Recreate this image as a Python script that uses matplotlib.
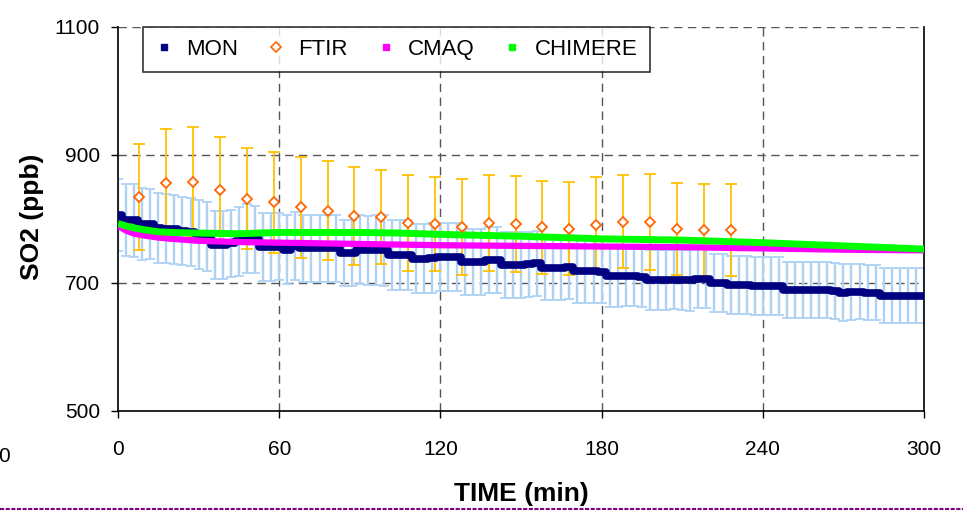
# SO2 time series: measured (MON), FTIR and two models (CMAQ, CHIMERE)

import numpy as np
import matplotlib
matplotlib.use('Agg')
import matplotlib.pyplot as plt
from matplotlib.lines import Line2D

plt.rcParams['font.family'] = ['Liberation Sans', 'DejaVu Sans']

# MON every 3 minutes (0..300)
mon_t = np.arange(0, 301, 3)
mon = [806, 798, 798, 792, 792, 786, 785, 784, 781, 780,
       776, 772, 760, 759, 762, 765, 770, 768, 756, 756,
       757, 752, 758, 754, 754, 754, 754, 754, 747, 747,
       752, 751, 752, 751, 744, 744, 744, 738, 738, 739,
       741, 741, 740, 733, 733, 733, 736, 736, 728, 728,
       728, 729, 731, 723, 723, 723, 725, 718, 718, 718,
       717, 711, 711, 711, 711, 710, 705, 705, 705, 705,
       705, 704, 707, 707, 700, 700, 697, 697, 697, 695,
       695, 695, 695, 689, 689, 689, 689, 689, 689, 688,
       685, 686, 686, 685, 685, 680, 680, 680, 680, 680,
       680]
mon_err = [56, 56, 57, 56, 55, 55, 54, 54, 53, 53,
           54, 54, 53, 53, 52, 54, 54, 53, 53, 53,
           53, 54, 53, 53, 52, 52, 53, 53, 52, 52,
           54, 54, 55, 55, 55, 55, 55, 54, 54, 54,
           53, 53, 53, 52, 52, 52, 52, 52, 52, 51,
           52, 51, 51, 50, 50, 50, 50, 49, 49, 49,
           48, 48, 48, 47, 47, 47, 47, 47, 47, 46,
           47, 47, 46, 46, 46, 45, 45, 45, 45, 45,
           45, 45, 45, 44, 44, 44, 44, 44, 44, 44,
           44, 44, 43, 43, 43, 43, 43, 43, 43, 43,
           43]

# FTIR
ftir_t = [8, 18, 28, 38, 48, 58, 68, 78, 88, 98, 108, 118,
          128, 138, 148, 158, 168, 178, 188, 198, 208, 218, 228]
ftir = [834, 857, 858, 846, 832, 826, 818, 813, 805, 803, 794, 792,
        787, 794, 792, 787, 785, 790, 796, 796, 785, 783, 783]
ftir_err = [83, 84, 85, 82, 79, 79, 79, 77, 77, 74, 75, 73,
            75, 75, 75, 73, 73, 75, 73, 75, 72, 72, 72]

# models
cmaq_t = [0, 3, 6, 10, 15, 20, 30, 45, 60, 90, 120, 150, 180, 210, 240, 270, 300]
cmaq = [789, 782, 777, 774, 771, 769, 766, 764, 763, 761, 759, 758, 757, 756, 754, 752, 751]
chim_t = [0, 3, 6, 10, 15, 20, 30, 45, 60, 75, 90, 105, 120, 150, 180, 210, 240, 270, 300]
chim = [793, 789, 786, 783, 780, 779, 778, 777, 779, 779, 779, 778, 776, 773, 769, 767, 763, 758, 753]

xticks = [0, 60, 120, 180, 240, 300]
yticks = [500, 700, 900, 1100]

W, H = 963, 513
fig = plt.figure(figsize=(W / 100, H / 100), dpi=100)
ax = fig.add_axes([118 / W, 1 - 411 / H, 806 / W, 384 / H])

grid_kw = dict(color='#555555', lw=1.0, ls=(0, (6, 4)), zorder=0.5)
for x in xticks[1:-1]:
    ax.axvline(x, **grid_kw)
for y in [700, 900, 1100]:
    ax.axhline(y, **grid_kw)

ax.errorbar(mon_t, mon, yerr=mon_err, fmt='none', ecolor='#AFD2F4',
            elinewidth=1.7, capsize=3.5, capthick=1.3, zorder=1)
ax.errorbar(ftir_t, ftir, yerr=ftir_err, fmt='none', ecolor='#FFC000',
            elinewidth=1.3, capsize=4, capthick=1.3, zorder=2)
ax.plot(mon_t, mon, color='#000080', lw=5.5, drawstyle='steps-mid',
        solid_capstyle='butt', zorder=3)
ax.plot(cmaq_t, cmaq, color='#FF00FF', lw=4.5, solid_capstyle='butt', zorder=4)
ax.plot(chim_t, chim, color='#00FF00', lw=5, solid_capstyle='butt', zorder=5)
ax.plot(ftir_t, ftir, ls='none', marker='D', ms=5.5, mfc='white',
        mec='#FF6600', mew=1.3, zorder=6)

ax.set_xlim(0, 300)
ax.set_ylim(500, 1100)
ax.set_xticks(xticks)
ax.set_yticks(yticks)
ax.tick_params(axis='x', direction='out', length=5, width=1, pad=16, labelsize=15)
ax.tick_params(axis='y', direction='out', length=5, width=1, pad=8, labelsize=15)
ax.spines['top'].set_visible(False)
for s in ['left', 'bottom', 'right']:
    ax.spines[s].set_color('black')
    ax.spines[s].set_linewidth(1.2)

handles = [
    Line2D([], [], ls='none', marker='s', ms=5, color='#000080'),
    Line2D([], [], ls='none', marker='D', ms=5, mfc='white', mec='#FF6600', mew=1.2),
    Line2D([], [], ls='none', marker='s', ms=5, color='#FF00FF'),
    Line2D([], [], ls='none', marker='s', ms=5, color='#00FF00'),
]
leg = ax.legend(handles, ['MON', 'FTIR', 'CMAQ', 'CHIMERE'], ncol=4,
                loc='upper left', bbox_to_anchor=(25 / 806, 1.0),
                borderaxespad=0, fontsize=16, handlelength=0.8,
                handletextpad=0.6, columnspacing=1.3, frameon=True,
                fancybox=False, borderpad=0.55)
leg.get_frame().set_edgecolor('black')
leg.get_frame().set_linewidth(1.2)
leg.set_zorder(10)

fig.text(32 / W, 1 - 217 / H, 'SO2 (ppb)', rotation=90, ha='center',
         va='center', fontsize=19, fontweight='bold')
fig.text(521 / W, 1 - 494 / H, 'TIME (min)', ha='center', va='center',
         fontsize=19, fontweight='bold')
fig.text(10 / W, 1 - 457 / H, '0', ha='right', va='center', fontsize=15)

fig.add_artist(Line2D([0, 1], [1 - 509 / H, 1 - 509 / H], transform=fig.transFigure,
                      color='#800080', lw=1.5, ls=(0, (2, 0.7))))

fig.savefig('out.png', dpi=100)
